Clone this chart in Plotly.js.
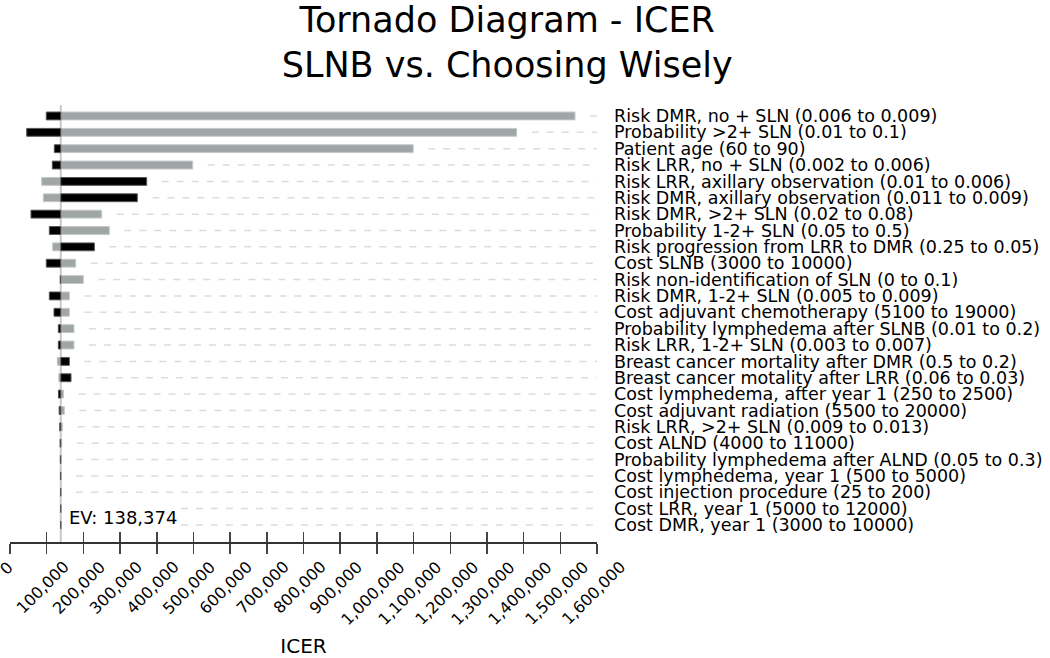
<!DOCTYPE html>
<html>
<head>
<meta charset="utf-8">
<script src="https://cdn.plot.ly/plotly-3.0.1.min.js"></script>
<style>html,body{margin:0;padding:0;background:#fff}#chart{width:1050px;height:658px}</style>
</head>
<body>
<div id="chart"></div>
<script>
const EV = 138374;
const parameters = [
  "Risk DMR, no + SLN (0.006 to 0.009)",
  "Probability >2+ SLN (0.01 to 0.1)",
  "Patient age (60 to 90)",
  "Risk LRR, no + SLN (0.002 to 0.006)",
  "Risk LRR, axillary observation (0.01 to 0.006)",
  "Risk DMR, axillary observation (0.011 to 0.009)",
  "Risk DMR, >2+ SLN (0.02 to 0.08)",
  "Probability 1-2+ SLN (0.05 to 0.5)",
  "Risk progression from LRR to DMR (0.25 to 0.05)",
  "Cost SLNB (3000 to 10000)",
  "Risk non-identification of SLN (0 to 0.1)",
  "Risk DMR, 1-2+ SLN (0.005 to 0.009)",
  "Cost adjuvant chemotherapy (5100 to 19000)",
  "Probability lymphedema after SLNB (0.01 to 0.2)",
  "Risk LRR, 1-2+ SLN (0.003 to 0.007)",
  "Breast cancer mortality after DMR (0.5 to 0.2)",
  "Breast cancer motality after LRR (0.06 to 0.03)",
  "Cost lymphedema, after year 1 (250 to 2500)",
  "Cost adjuvant radiation (5500 to 20000)",
  "Risk LRR, >2+ SLN (0.009 to 0.013)",
  "Cost ALND (4000 to 11000)",
  "Probability lymphedema after ALND (0.05 to 0.3)",
  "Cost lymphedema, year 1 (500 to 5000)",
  "Cost injection procedure (25 to 200)",
  "Cost LRR, year 1 (5000 to 12000)",
  "Cost DMR, year 1 (3000 to 10000)"
];
// ICER at the black (one end) and grey (other end) of each parameter range
const blackICER = [98900, 45500, 120800, 115300, 372500, 347000, 57200, 107200, 229900, 98900,
  137000, 107200, 119900, 131700, 131700, 161700, 166300, 132000, 134000, 135500,
  136500, 137200, 137600, 138000, 138200, 138300];
const greyICER = [1540000, 1381000, 1099000, 498000, 86400, 90800, 249900, 270700, 116300, 179000,
  199800, 161700, 161700, 174400, 174400, 128900, 132700, 146000, 148000, 143000,
  141000, 140000, 139600, 139000, 138600, 138450];
const xTicks = [0,100000,200000,300000,400000,500000,600000,700000,800000,900000,1000000,
  1100000,1200000,1300000,1400000,1500000,1600000];
const xTickText = ["0","100,000","200,000","300,000","400,000","500,000","600,000","700,000",
  "800,000","900,000","1,000,000","1,100,000","1,200,000","1,300,000","1,400,000","1,500,000","1,600,000"];
const xMax = 1600000;
const guideGap = 41000;

const FONT = "DejaVu Sans, Verdana, sans-serif";

const guideX = [], guideY = [];
parameters.forEach((p, i) => {
  const end = Math.max(blackICER[i], greyICER[i]) + guideGap;
  guideX.push(end, xMax, null);
  guideY.push(p, p, null);
});

const traces = [
  {type: "scatter", mode: "lines", x: guideX, y: guideY, hoverinfo: "skip",
   line: {color: "#dcdcdc", width: 1.5, dash: "7px,8px"}, showlegend: false},
  {type: "bar", orientation: "h", y: parameters, base: EV,
   x: greyICER.map(v => v - EV), width: 0.48,
   marker: {color: "#a0a6a6", line: {color: "#c4c8c8", width: 1}}, showlegend: false},
  {type: "bar", orientation: "h", y: parameters, base: EV,
   x: blackICER.map(v => v - EV), width: 0.48,
   marker: {color: "#000000", line: {color: "#555555", width: 1}}, showlegend: false},
  {type: "scatter", mode: "markers", x: [0, xMax], y: [parameters[0], parameters[0]],
   xaxis: "x2", marker: {opacity: 0}, hoverinfo: "skip", showlegend: false}
];

// rotated tick labels (centred under each tick)
const tickAnnotations = xTicks.map((v, i) => ({
  xref: "x", yref: "paper", x: v, y: 0, yshift: -13, xshift: -4,
  xanchor: "center", yanchor: "top", textangle: -45, showarrow: false,
  text: xTickText[i], font: {family: FONT, size: 16, color: "#000"}
}));

const layout = {
  width: 1050, height: 658,
  margin: {l: 10, r: 453, t: 105, b: 116},
  paper_bgcolor: "#ffffff", plot_bgcolor: "#ffffff",
  font: {family: FONT, color: "#000", size: 17.5},
  barmode: "overlay",
  title: {text: "Tornado Diagram - ICER<br>SLNB vs. Choosing Wisely",
    font: {family: FONT, size: 35, color: "#000"},
    x: 0.483, xanchor: "center", y: 0.952, yanchor: "top", xref: "container", yref: "container"},
  xaxis: {range: [0, xMax], tickvals: xTicks, showticklabels: false,
    ticks: "outside", ticklen: 10, tickwidth: 1.5, tickcolor: "#444",
    showline: true, linecolor: "#333", linewidth: 2, showgrid: false, zeroline: false,
    title: {text: "ICER", font: {family: FONT, size: 20, color: "#000"}, standoff: 88},
    automargin: false},
  xaxis2: {range: [0, xMax], tickvals: xTicks, overlaying: "x", anchor: "y", side: "bottom",
    ticks: "inside", ticklen: 10, tickwidth: 1.5, tickcolor: "#444",
    showticklabels: false, showline: false, showgrid: false, zeroline: false},
  yaxis: {type: "category", categoryorder: "array", categoryarray: parameters,
    tickmode: "array", tickvals: parameters, ticktext: parameters,
    range: [26.04, -0.67], side: "right", ticks: "", ticklabelstandoff: 16,
    showline: false, showgrid: false, zeroline: false,
    tickfont: {family: FONT, size: 17.5, color: "#000"}, automargin: false},
  shapes: [{type: "line", xref: "x", yref: "paper", x0: EV, x1: EV, y0: 0, y1: 1,
    line: {color: "#c8c8c8", width: 2}, layer: "below"}],
  annotations: [{xref: "x", yref: "paper", x: EV, y: 0.057, xanchor: "left", yanchor: "middle",
    xshift: 6, text: "EV: 138,374", showarrow: false, bgcolor: "#ffffff",
    font: {family: FONT, size: 18, color: "#000"}}].concat(tickAnnotations)
};

Plotly.newPlot("chart", traces, layout, {displayModeBar: false, staticPlot: true});
</script>
</body>
</html>
